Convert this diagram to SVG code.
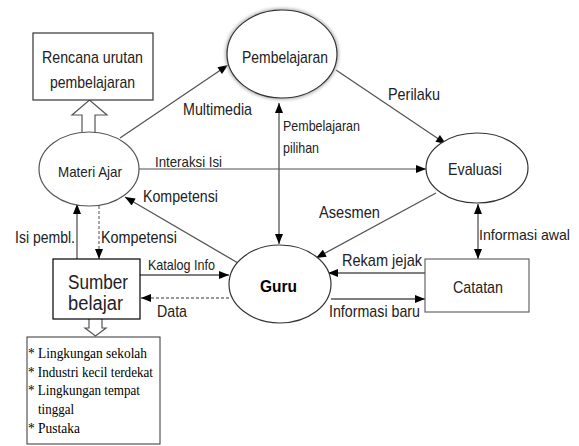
<svg xmlns="http://www.w3.org/2000/svg" width="579" height="446" viewBox="0 0 579 446">
<defs>
<marker id="ah" viewBox="0 0 10 8" refX="10" refY="4" markerWidth="11" markerHeight="8" markerUnits="userSpaceOnUse" orient="auto-start-reverse">
<path d="M0,0 L10,4 L0,8 z" fill="#000"/>
</marker>
<filter id="glow" x="-20%" y="-20%" width="140%" height="140%">
<feGaussianBlur stdDeviation="1.5"/>
</filter>
</defs>
<style>
.nd{fill:#fff;stroke:#333;stroke-width:1.2}
.ln{fill:none;stroke:#555;stroke-width:1.3}
.dl{fill:none;stroke:#777;stroke-width:1.3;stroke-dasharray:3 2}
.t{font-family:"Liberation Sans",Arial,sans-serif;fill:#222;font-size:17px}
.s{font-family:"Liberation Sans",Arial,sans-serif;fill:#222;font-size:15px}
.b{font-family:"Liberation Sans",Arial,sans-serif;fill:#222;font-size:20px}
.tm{font-family:"Liberation Serif","Times New Roman",serif;fill:#000;font-size:14px}
.hol{fill:#fff;stroke:#555;stroke-width:1.2}
</style>
<rect width="579" height="446" fill="#fff"/>

<g id="connectors">
<line class="ln" x1="120" y1="138" x2="228" y2="65" marker-end="url(#ah)"/>
<line class="ln" x1="139" y1="169" x2="426" y2="169" style="stroke:#888" marker-end="url(#ah)"/>
<line class="ln" x1="238" y1="263" x2="125" y2="197" marker-end="url(#ah)"/>
<line class="ln" x1="279" y1="103" x2="279" y2="244" marker-start="url(#ah)" marker-end="url(#ah)"/>
<line class="ln" x1="336" y1="70" x2="446" y2="144" marker-end="url(#ah)"/>
<line class="ln" x1="436" y1="193" x2="316" y2="258" marker-end="url(#ah)"/>
<line class="ln" x1="478" y1="204" x2="478" y2="259" marker-start="url(#ah)" marker-end="url(#ah)"/>
<line class="ln" x1="425" y1="273" x2="328" y2="273" marker-end="url(#ah)"/>
<line class="ln" x1="331" y1="299" x2="425" y2="299" marker-end="url(#ah)"/>
<line class="ln" x1="140" y1="275" x2="229" y2="275" marker-end="url(#ah)"/>
<line class="dl" x1="229" y1="298" x2="141" y2="298" marker-end="url(#ah)"/>
<line class="ln" x1="77" y1="259" x2="77" y2="204" marker-end="url(#ah)"/>
<line class="dl" x1="99" y1="206" x2="99" y2="259" marker-end="url(#ah)"/>
<path class="hol" d="M82,132 L82,115 L72,115 L89.5,100 L107,115 L95,115 L95,132"/>
<path class="hol" d="M89,319 L89,328 L85,328 L95.5,336 L106,328 L102,328 L102,319"/>
<text class="t" x="183" y="115" textLength="69" lengthAdjust="spacingAndGlyphs">Multimedia</text>
<text class="s" x="155" y="167" textLength="67" lengthAdjust="spacingAndGlyphs">Interaksi Isi</text>
<text class="t" x="143" y="202" textLength="75" lengthAdjust="spacingAndGlyphs">Kompetensi</text>
<text class="s" x="283" y="131" textLength="77" lengthAdjust="spacingAndGlyphs">Pembelajaran</text>
<text class="s" x="283" y="153" textLength="36" lengthAdjust="spacingAndGlyphs">pilihan</text>
<text class="t" x="388" y="100" textLength="52" lengthAdjust="spacingAndGlyphs">Perilaku</text>
<text class="t" x="319" y="218" textLength="61" lengthAdjust="spacingAndGlyphs">Asesmen</text>
<text class="s" x="479" y="240" textLength="91" lengthAdjust="spacingAndGlyphs">Informasi awal</text>
<text class="t" x="342" y="266" textLength="80" lengthAdjust="spacingAndGlyphs">Rekam jejak</text>
<text class="t" x="329" y="317" textLength="91" lengthAdjust="spacingAndGlyphs">Informasi baru</text>
<text class="s" x="148" y="270" textLength="67" lengthAdjust="spacingAndGlyphs">Katalog Info</text>
<text class="t" x="157" y="317" textLength="30" lengthAdjust="spacingAndGlyphs">Data</text>
<text class="t" x="15" y="243" textLength="60" lengthAdjust="spacingAndGlyphs">Isi pembl.</text>
<text class="t" x="101" y="243" textLength="76" lengthAdjust="spacingAndGlyphs">Kompetensi</text>
</g>

<g id="rencana">
<rect class="nd" x="33" y="33" width="120" height="67"/>
<text class="t" x="42" y="63" textLength="101" lengthAdjust="spacingAndGlyphs">Rencana urutan</text>
<text class="t" x="50" y="88" textLength="85" lengthAdjust="spacingAndGlyphs">pembelajaran</text>
</g>

<g id="pembelajaran">
<ellipse cx="282" cy="54" rx="55" ry="44" fill="none" stroke="#bbb" stroke-width="4" filter="url(#glow)"/>
<ellipse class="nd" cx="282" cy="54" rx="55" ry="44"/>
<text class="t" x="242" y="63" textLength="86" lengthAdjust="spacingAndGlyphs">Pembelajaran</text>
</g>

<g id="materi">
<ellipse class="nd" cx="89" cy="169" rx="50" ry="37" style="stroke:#555"/>
<text class="s" x="58" y="177" textLength="64" lengthAdjust="spacingAndGlyphs">Materi Ajar</text>
</g>

<g id="evaluasi">
<ellipse class="nd" cx="477" cy="168" rx="51" ry="35"/>
<text class="t" x="448" y="175" textLength="54" lengthAdjust="spacingAndGlyphs">Evaluasi</text>
</g>

<g id="guru">
<ellipse class="nd" cx="280" cy="284" rx="51" ry="39"/>
<text class="t" x="260" y="292" style="font-weight:bold;fill:#000" textLength="37" lengthAdjust="spacingAndGlyphs">Guru</text>
</g>

<g id="catatan">
<rect class="nd" x="425" y="259" width="104" height="53" style="stroke:#666"/>
<text class="t" x="453" y="293" textLength="50" lengthAdjust="spacingAndGlyphs">Catatan</text>
</g>

<g id="sumber">
<rect class="nd" x="53" y="259" width="87" height="60" style="stroke:#000"/>
<text class="b" x="68" y="289" textLength="60" lengthAdjust="spacingAndGlyphs">Sumber</text>
<text class="b" x="68" y="310" textLength="55" lengthAdjust="spacingAndGlyphs">belajar</text>
</g>

<g id="daftar">
<rect x="27" y="337" width="133" height="107" fill="#fff" stroke="#333" stroke-width="1"/>
<text class="tm" x="28" y="358" textLength="119" lengthAdjust="spacingAndGlyphs">* Lingkungan sekolah</text>
<text class="tm" x="28" y="377" textLength="125" lengthAdjust="spacingAndGlyphs">* Industri kecil terdekat</text>
<text class="tm" x="28" y="395" textLength="112" lengthAdjust="spacingAndGlyphs">* Lingkungan tempat</text>
<text class="tm" x="38" y="414" textLength="36" lengthAdjust="spacingAndGlyphs">tinggal</text>
<text class="tm" x="28" y="433" textLength="52" lengthAdjust="spacingAndGlyphs">* Pustaka</text>
</g>
</svg>
